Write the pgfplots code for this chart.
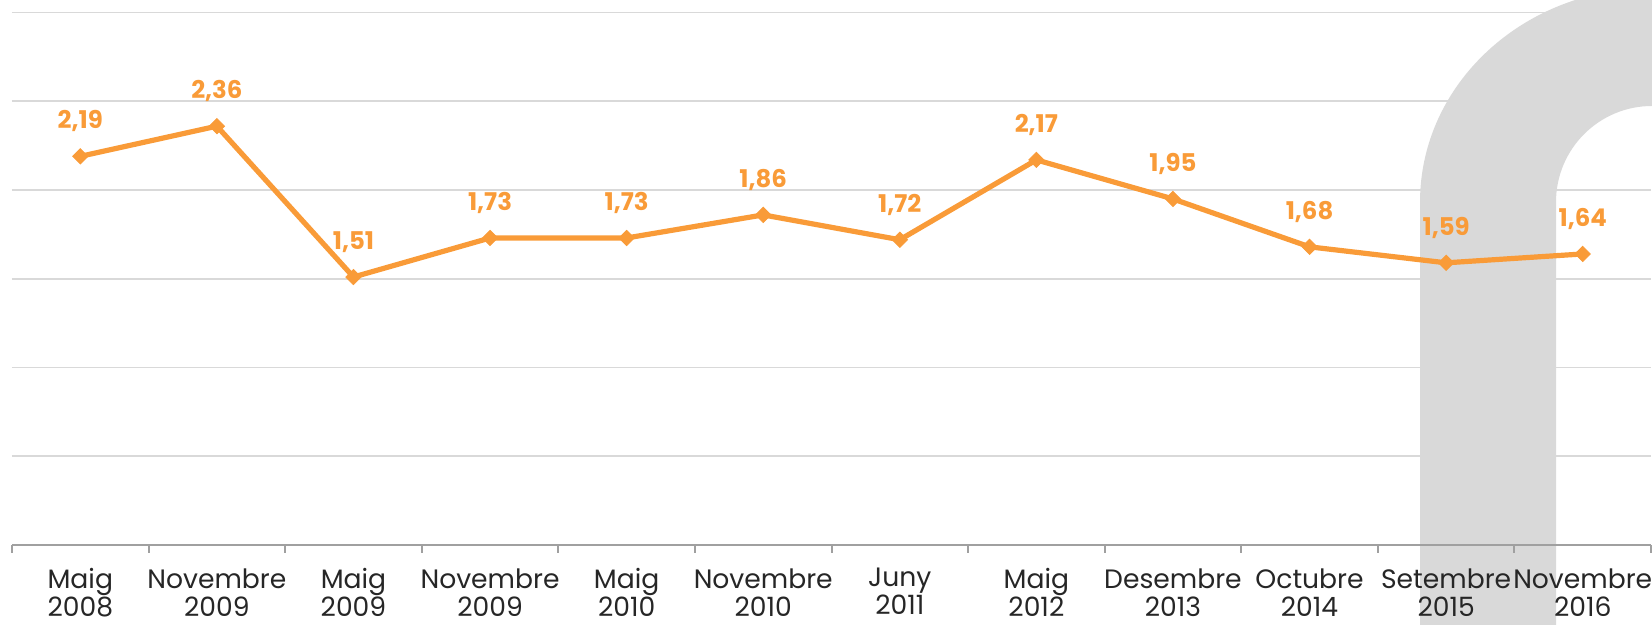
\documentclass[border=0pt]{standalone}
\usepackage{fontspec}
\setmainfont{Poppins}
\usepackage{pgfplots}
\pgfplotsset{compat=1.18}
\usepackage{pgfplotstable}
\definecolor{lineor}{HTML}{F99B38}
\definecolor{gridg}{HTML}{D9D9D9}
\definecolor{archg}{HTML}{D9D9D9}
\definecolor{axg}{HTML}{A0A0A0}
\pgfplotstableread{
x y lab
0 2.19 2,19
1 2.36 2,36
2 1.51 1,51
3 1.73 1,73
4 1.73 1,73
5 1.86 1,86
6 1.72 1,72
7 2.17 2,17
8 1.95 1,95
9 1.68 1,68
10 1.59 1,59
11 1.64 1,64
}\data
\pgfplotsset{base/.style={width=819.5pt,height=266.2pt,scale only axis,at={(6pt,40pt)},anchor=south west,xmin=-0.5,xmax=11.5,ymin=0,ymax=3}}
\begin{document}
\begin{tikzpicture}
\begin{axis}[base, xtick=\empty, ytick={0.5,1,...,3}, yticklabels={}, ymajorgrids, grid style={gridg, line width=0.9pt}, axis line style={draw=none}, major tick length=0pt]
\end{axis}
\fill[archg] (710pt,-5pt) -- (710pt,211.5pt) arc[start angle=180,end angle=90,x radius=116pt,y radius=107pt] -- (840pt,318.5pt) -- (840pt,259.5pt) -- (826pt,259.5pt) arc[start angle=90,end angle=180,radius=48pt] -- (778pt,-5pt) -- cycle;
\begin{axis}[base, axis x line=bottom, axis y line=none, x axis line style={-,draw=axg,line width=1pt},
  xtick={0,...,11},
  xticklabels={{Maig\\2008},{Novembre\\2009},{Maig\\2009},{Novembre\\2009},{Maig\\2010},{Novembre\\2010},{Juny\\2011},{Maig\\2012},{Desembre\\2013},{Octubre\\2014},{Setembre\\2015},{Novembre\\2016}},
  minor xtick={-0.5,0.5,...,11.5}, major tick length=0pt, minor tick length=4pt, tick align=outside,
  minor tick style={draw=axg, line width=1pt},
  xticklabel style={align=center, font=\fontsize{13.3}{14}\selectfont, anchor=north, inner sep=0pt, yshift=-11.5pt, text=black!85},
  ytick=\empty, clip=false]
\addplot[lineor, line width=2.6pt, mark=square*, mark size=2.7pt, mark options={rotate=45, line width=0.4pt, fill=lineor},
  point meta=explicit symbolic, nodes near coords,
  every node near coord/.append style={font=\fontsize{12.2}{14}\selectfont\bfseries, text=lineor, anchor=center, yshift=17.5pt}]
  table[x=x,y=y,meta=lab]{\data};
\end{axis}
\pgfresetboundingbox
\useasboundingbox (0,0) rectangle (826pt,312.5pt);
\end{tikzpicture}
\end{document}
